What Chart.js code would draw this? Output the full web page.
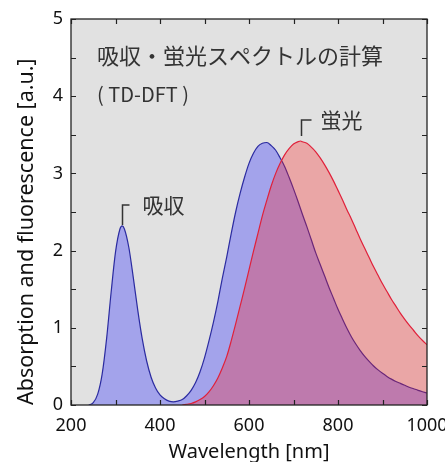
<!DOCTYPE html>
<html><head><meta charset="utf-8">
<script src="https://cdn.jsdelivr.net/npm/chart.js@4"></script>
<style>html,body{margin:0;padding:0;background:#fff;overflow:hidden;}</style>
</head><body>
<canvas id="c" width="445" height="462"></canvas>
<script>
// ---- data ----
const absWavelengths = [240,250,260,270,280,290,300,310,315,320,330,340,350,360,370,380,390,400,410,420,430,440,450,460,470,480,490,500,510,520,530,540,550,560,570,580,590,600,610,620,630,640,650,660,670,680,690,700,710,720,730,740,750,760,770,780,790,800,810,820,830,840,850,860,870,880,890,900,910,920,930,940,950,960,970,980,990,1000];
const absorption = [0.00,0.03,0.14,0.40,0.86,1.45,1.98,2.28,2.32,2.28,2.04,1.65,1.23,0.86,0.57,0.36,0.22,0.13,0.08,0.05,0.04,0.05,0.07,0.12,0.19,0.29,0.43,0.61,0.83,1.07,1.34,1.64,1.92,2.22,2.50,2.74,2.95,3.13,3.26,3.35,3.39,3.40,3.36,3.30,3.20,3.09,2.95,2.80,2.64,2.47,2.31,2.14,1.97,1.82,1.67,1.52,1.38,1.24,1.115,0.995,0.885,0.79,0.705,0.63,0.565,0.505,0.455,0.41,0.37,0.335,0.305,0.28,0.255,0.23,0.21,0.19,0.172,0.155];
const fluoWavelengths = [450,460,470,480,490,500,510,520,530,540,550,560,570,580,590,600,610,620,630,640,650,660,670,680,690,700,710,716,720,730,740,750,760,770,780,790,800,810,820,830,840,850,860,870,880,890,900,910,920,930,940,950,960,970,980,990,1000];
const fluorescence = [0.00,0.01,0.02,0.04,0.07,0.11,0.17,0.25,0.35,0.48,0.63,0.83,1.05,1.28,1.51,1.75,1.99,2.22,2.45,2.65,2.84,3.00,3.13,3.24,3.32,3.38,3.41,3.42,3.41,3.39,3.34,3.28,3.20,3.11,3.01,2.90,2.78,2.66,2.53,2.41,2.28,2.15,2.03,1.91,1.79,1.68,1.57,1.47,1.37,1.28,1.19,1.11,1.035,0.965,0.895,0.835,0.78];
const xLabeled = [200,400,600,800,1000];
const yLabeled = [0,1,2,3,4,5];
const absPeak = {x:315, y:2.32};
const fluoPeak = {x:716, y:3.42};
const titleText = '吸収・蛍光スペクトルの計算';
const subtitleText = '( TD-DFT )';
const absText = '吸収';
const fluoText = '蛍光';
const xTitle = 'Wavelength [nm]';
const yTitle = 'Absorption and fluorescence [a.u.]';

const toPoints = (xs, ys) => xs.map((x, i) => ({x: x, y: ys[i]}));

const framePlugin = {
  id: 'frame',
  beforeDraw(chart) {
    const {ctx, chartArea: a} = chart;
    ctx.save();
    ctx.fillStyle = '#e1e1e1';
    ctx.fillRect(a.left, a.top, a.right - a.left, a.bottom - a.top);
    ctx.restore();
  },
  afterDatasetsDraw(chart) {
    const {ctx, chartArea: a, scales} = chart;
    const x = scales.x, y = scales.y;
    ctx.save();
    ctx.fillStyle = '#333';
    ctx.textBaseline = 'middle';
    ctx.textAlign = 'left';
    ctx.font = '22px "Noto Sans CJK JP"';
    ctx.fillText(titleText, a.left + 26, a.top + 37);
    ctx.font = '20px "Noto Sans CJK JP"';
    ctx.fillText(subtitleText, a.left + 26, a.top + 75);
    const marks = [
      {p: fluoPeak, text: fluoText, gap: 5, rise: 21, arm: 10, tx: 19},
      {p: absPeak, text: absText, gap: 1, rise: 21, arm: 7, tx: 20}
    ];
    ctx.strokeStyle = '#333';
    ctx.lineWidth = 1.5;
    marks.forEach(m => {
      const px = Math.round(x.getPixelForValue(m.p.x)) + 0.5;
      const py = y.getPixelForValue(m.p.y);
      ctx.beginPath();
      ctx.moveTo(px, py - m.gap);
      ctx.lineTo(px, py - m.rise);
      ctx.lineTo(px + m.arm, py - m.rise);
      ctx.stroke();
      ctx.font = '21px "Noto Sans CJK JP"';
      ctx.fillText(m.text, px + m.tx, py - m.rise);
    });
    ctx.restore();
  },
  afterDraw(chart) {
    const {ctx, chartArea: a, scales} = chart;
    const x = scales.x, y = scales.y;
    ctx.save();
    ctx.strokeStyle = '#222';
    ctx.lineWidth = 1.3;
    ctx.strokeRect(a.left, a.top, a.right - a.left, a.bottom - a.top);
    ctx.lineWidth = 1.2;
    ctx.beginPath();
    x.ticks.forEach(t => {
      const px = Math.round(x.getPixelForValue(t.value)) + 0.5;
      ctx.moveTo(px, a.bottom); ctx.lineTo(px, a.bottom - 5);
      ctx.moveTo(px, a.top); ctx.lineTo(px, a.top + 5);
    });
    y.ticks.forEach(t => {
      const py = Math.round(y.getPixelForValue(t.value)) + 0.5;
      ctx.moveTo(a.left, py); ctx.lineTo(a.left + 5, py);
      ctx.moveTo(a.right, py); ctx.lineTo(a.right - 5, py);
    });
    ctx.stroke();
    ctx.restore();
  }
};

new Chart(document.getElementById('c'), {
  type: 'line',
  data: {
    datasets: [
      {
        label: 'fluorescence',
        data: toPoints(fluoWavelengths, fluorescence),
        borderColor: '#e0203a',
        backgroundColor: 'rgba(255,30,30,0.3)',
        borderWidth: 1.2,
        fill: 'origin',
        pointRadius: 0,
        cubicInterpolationMode: 'monotone',
        order: 0
      },
      {
        label: 'absorption',
        data: toPoints(absWavelengths, absorption),
        borderColor: '#2b2ba0',
        backgroundColor: 'rgba(70,70,250,0.4)',
        borderWidth: 1.2,
        fill: 'origin',
        pointRadius: 0,
        cubicInterpolationMode: 'monotone',
        order: 1
      }
    ]
  },
  options: {
    responsive: false,
    devicePixelRatio: 1,
    animation: false,
    layout: {padding: {top: 19, right: 18, left: 0, bottom: 0}},
    plugins: {legend: {display: false}, tooltip: {enabled: false}},
    scales: {
      x: {
        type: 'linear', min: 200, max: 1000,
        grid: {display: false, drawTicks: false},
        border: {display: false},
        ticks: {
          stepSize: 100, autoSkip: false, maxRotation: 0, padding: 10,
          color: '#111', font: {family: 'Noto Sans', size: 18},
          callback: v => xLabeled.includes(v) ? String(v) : ''
        },
        title: {display: true, text: xTitle, color: '#111',
          font: {family: 'Noto Sans', size: 20, lineHeight: 1}, padding: {top: 0, bottom: 0}},
        afterFit: s => { s.height = 57; s.paddingLeft = 0; s.paddingRight = 0; }
      },
      y: {
        min: 0, max: 5,
        grid: {display: false, drawTicks: false},
        border: {display: false},
        ticks: {
          stepSize: 0.5, autoSkip: false, padding: 8,
          color: '#111', font: {family: 'Noto Sans', size: 18},
          callback: v => yLabeled.includes(v) ? String(v) : ''
        },
        title: {display: true, text: yTitle, color: '#111', align: 'start',
          font: {family: 'Noto Sans', size: 21.5, lineHeight: 1}, padding: {top: 16, bottom: 0}},
        afterFit: s => { s.width = 71; s.paddingTop = 0; s.paddingBottom = 0; }
      }
    }
  },
  plugins: [framePlugin]
});
</script>
</body></html>
